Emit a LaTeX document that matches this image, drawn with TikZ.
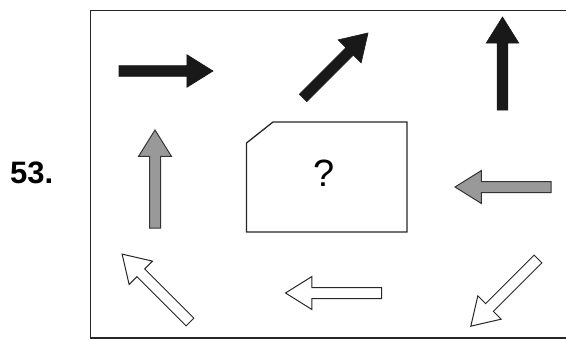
\documentclass[tikz,border=0pt]{standalone}
\usepackage{fontspec}
\setmainfont{Liberation Sans}
\usetikzlibrary{shapes.arrows}
\tikzstyle{blockarrow} = [single arrow, anchor=tail, minimum height=95pt, single arrow head extend=11pt, single arrow tip angle=64, inner xsep=0pt, inner ysep=5pt, outer sep=0pt]
\tikzstyle{dark arrow} = [blockarrow, fill=black!90, draw=black!90, line width=0.6pt]
\tikzstyle{grey arrow} = [blockarrow, fill=black!40, draw=black!80, line width=1pt]
\tikzstyle{hollow arrow} = [blockarrow, fill=white, draw=black!85, line width=1pt]

\begin{document}
\begin{tikzpicture}[x=1pt,y=-1pt]
    \useasboundingbox (0,0) rectangle (566,340);
    \draw [line width=1.6pt, black!85] (90.5,10.5) rectangle (567,338);
    \node (number) [font=\bfseries\fontsize{31}{34}\selectfont, anchor=base west, inner sep=0pt] at (10,183) {53.};

    % top row
    \node (east) [dark arrow, minimum height=94pt] at (119,71) {};
    \node (northeast) [dark arrow, rotate=45, minimum height=92pt] at (303,98) {};
    \node (north) [dark arrow, rotate=90, minimum height=93pt] at (502.5,110) {};

    % middle row
    \node (greyup) [grey arrow, rotate=90, minimum height=98pt] at (155,228) {};
    \draw [line width=1.3pt, black!85] (246.5,143) -- (273,122) -- (407,122) -- (407,232) -- (246.5,232) -- cycle;
    \node (query) [font=\fontsize{38}{40}\selectfont, anchor=base, inner sep=0pt] at (324,186) {?};
    \node (greyleft) [grey arrow, rotate=180, minimum height=96pt] at (551,187) {};

    % bottom row
    \node (northwest) [hollow arrow, rotate=135, minimum height=96pt] at (190,322) {};
    \node (west) [hollow arrow, rotate=180, minimum height=96pt] at (381.5,293) {};
    \node (southwest) [hollow arrow, rotate=225] at (538,259) {};
\end{tikzpicture}
\end{document}
